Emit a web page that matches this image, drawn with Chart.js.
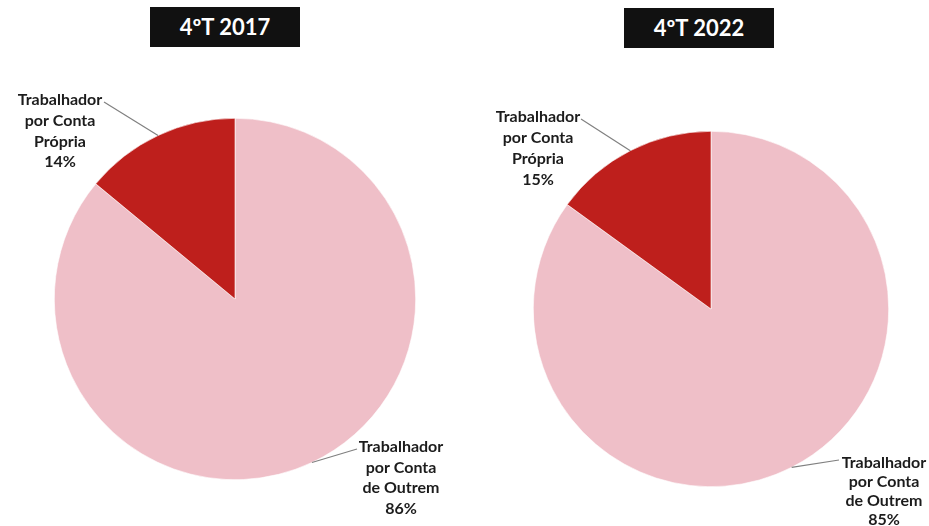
<!DOCTYPE html>
<html>
<head>
<meta charset="utf-8">
<script src="https://cdn.jsdelivr.net/npm/chart.js@4"></script>
<style>
body { margin:0; width:929px; height:526px; background:#fff; position:relative; overflow:hidden; font-family:Lato, "Open Sans", sans-serif; }
.box { position:absolute; width:464px; height:526px; top:0; }
.title { position:absolute; background:#111; color:#fff; font-weight:bold; font-size:22px; text-align:center; width:150px; height:40px; line-height:40px; }
</style>
</head>
<body>

<div class="box" style="left:0"><canvas id="pie2017"></canvas></div>
<div class="box" style="left:464px;width:465px"><canvas id="pie2022"></canvas></div>
<div class="title" id="t2017" style="left:150px;top:7px"></div>
<div class="title" id="t2022" style="left:624px;top:8px"></div>

<script>
/* Data */
const titles = ["4ºT 2017", "4ºT 2022"];
const categories = ["Trabalhador por Conta de Outrem", "Trabalhador por Conta Própria"];
const labelLines = [["Trabalhador", "por Conta", "de Outrem"], ["Trabalhador", "por Conta", "Própria"]];
const values2017 = [86, 14];
const values2022 = [85, 15];
const colors = ["#EFBFC8", "#BE1F1C"];

document.getElementById("t2017").innerText = titles[0];
document.getElementById("t2022").innerText = titles[1];

/* Labels with leader lines */
const leaderLabels = {
id: "leaderLabels",
afterDatasetsDraw(chart, args, opts) {
const ctx = chart.ctx;
const meta = chart.getDatasetMeta(0);
const values = chart.data.datasets[0].data;
ctx.save();
meta.data.forEach((arc, i) => {
const p = opts.pos[i];
const mid = (arc.startAngle + arc.endAngle) / 2;
const ex = arc.x + Math.cos(mid) * arc.outerRadius;
const ey = arc.y + Math.sin(mid) * arc.outerRadius;
ctx.strokeStyle = "#808080";
ctx.lineWidth = 1.2;
ctx.beginPath();
ctx.moveTo(ex, ey);
ctx.lineTo(p.lx, p.ly);
ctx.stroke();
let lines = labelLines[i].concat([values[i] + "%"]);
ctx.fillStyle = "#1c1c1c";
ctx.font = "bold 16px Lato, 'Open Sans', sans-serif";
ctx.textAlign = "center";
ctx.textBaseline = "middle";
lines.forEach((t, k) => ctx.fillText(t, p.x, p.y + k * p.gap));
});
ctx.restore();
}
};

function makePie(id, values, pad, pos) {
new Chart(document.getElementById(id), {
type: "pie",
data: {
labels: categories,
datasets: [{
data: values,
backgroundColor: colors,
borderColor: "#ffffff",
borderWidth: 0.6
}]
},
options: {
responsive: true,
maintainAspectRatio: false,
animation: false,
layout: { padding: pad },
plugins: {
legend: { display: false },
tooltip: { enabled: false },
leaderLabels: { pos: pos }
}
},
plugins: [leaderLabels]
});
}

makePie("pie2017", values2017,
{ left: 54, right: 48, top: 118, bottom: 46 },
[
{ x: 401, y: 447, gap: 20.5, lx: 357, ly: 449 },
{ x: 60, y: 100, gap: 20.7, lx: 104, ly: 102 }
]);

makePie("pie2022", values2022,
{ left: 69, right: 40, top: 131, bottom: 39 },
[
{ x: 420, y: 463, gap: 19, lx: 375, ly: 460 },
{ x: 74, y: 117, gap: 21, lx: 117, ly: 119 }
]);
</script>
</body>
</html>
